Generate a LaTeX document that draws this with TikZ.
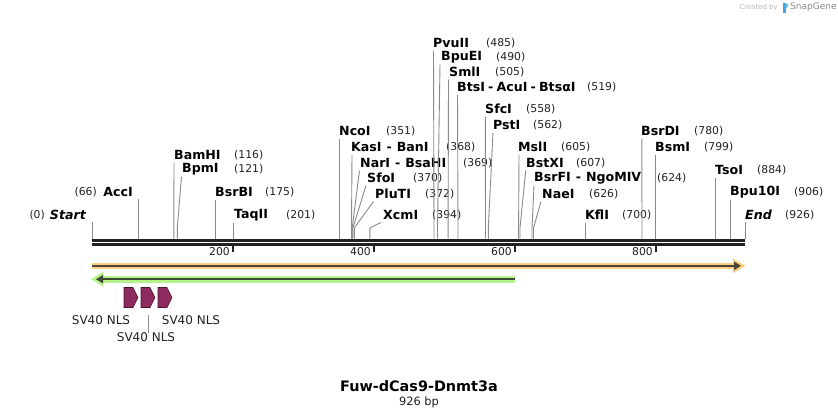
\documentclass[tikz,border=0pt]{standalone}
\usepackage{fontspec}
\setmainfont{DejaVu Sans}
\usetikzlibrary{arrows.meta}
\definecolor{cutgray}{HTML}{8A8A8A}
\definecolor{bbone}{HTML}{222222}
\definecolor{orangeL}{HTML}{FCD083}
\definecolor{orangeD}{HTML}{4E4536}
\definecolor{greenL}{HTML}{B6F28A}
\definecolor{greenD}{HTML}{3E4A37}
\definecolor{nlsfill}{HTML}{8E2B5E}
\definecolor{nlsdraw}{HTML}{4F1634}
\definecolor{sgblue}{HTML}{3BA9E0}
\tikzset{
  ename/.style={inner sep=0pt, font=\fontsize{12.6}{14}\selectfont\bfseries, text=black},
  enumb/.style={inner sep=0pt, font=\fontsize{10.8}{13}\selectfont, text=bbone},
  cutline/.style={draw=cutgray, line width=0.9pt},
  ticklbl/.style={inner sep=0pt, font=\fontsize{10.8}{13}\selectfont, text=bbone, anchor=east},
  tickmark/.style={draw=bbone, line width=1.4pt},
  featlbl/.style={inner sep=0pt, font=\fontsize{12}{14}\selectfont, text=bbone},
  nls/.style={fill=nlsfill, draw=nlsdraw, line width=0.6pt},
}
\newcommand\enz[8]{%
  \node[ename, anchor=west] (n#1) at (#3,#4) {#5};
  \node[enumb, anchor=west] (p#1) at (#6,#4) {#7};
  \coordinate (t#1) at (#8,#4+7.5);
  \coordinate (k#1) at (#2,228);
  \coordinate (s#1) at (#2,238.5);
  \draw[cutline] (t#1) -- (k#1) -- (s#1);
}
\newcommand\sep{\hspace{5pt}-\hspace{5pt}}
\newcommand\sepn{\hspace{3.2pt}-\hspace{3.2pt}}
\begin{document}
\begin{tikzpicture}[x=1pt,y=-1pt]
\useasboundingbox[fill=white] (0,0) rectangle (838,418);

% watermark
\node[inner sep=0pt, anchor=east, font=\fontsize{7}{8}\selectfont, text=black!28] (cb) at (778,7.5) {Created by};
\node[inner sep=0pt, anchor=west, font=\fontsize{9}{10}\selectfont, text=black!45] (sg) at (790,7.5) {SnapGene};
\fill[sgblue] (782.5,3) rectangle (785.5,12.5);
\fill[sgblue!70] (785.5,3) -- (788,4.5) -- (788,7) -- (785.5,8.5) -- cycle;

% start / AccI (labels left of the line)
\node[ename, anchor=east, font=\fontsize{12.6}{14}\selectfont\bfseries\itshape] (nstart) at (86,215) {Start};
\node[enumb, anchor=east] (pstart) at (45,215) {(0)};
\coordinate (tstart) at (92,222);
\coordinate (sstart) at (92,238.5);
\draw[cutline] (tstart) -- (sstart);
\node[ename, anchor=east] (nacc) at (133,192) {AccI};
\node[enumb, anchor=east] (pacc) at (97,192) {(66)};
\coordinate (tacc) at (138.5,199);
\coordinate (sacc) at (138.5,238.5);
\draw[cutline] (tacc) -- (sacc);

% enzymes: id, site x, name x, y, name, num x, num, top x
\enz{bam}{173.8}{174}{155}{BamHI}{234}{(116)}{174}
\enz{bpm}{177.3}{182}{169}{BpmI}{234}{(121)}{181.5}
\enz{bsrb}{215.4}{215}{192}{BsrBI}{265}{(175)}{215.4}
\enz{taq}{233.7}{234}{215}{TaqII}{286}{(201)}{233.7}
\enz{nco}{339.5}{339}{131}{NcoI}{386}{(351)}{339.5}
\enz{kas}{351.5}{351}{147}{KasI\sep BanI}{446}{(368)}{352}
\enz{nar}{352.2}{360}{163}{NarI\sep BsaHI}{463}{(369)}{359.5}
\enz{sfo}{352.9}{367}{178}{SfoI}{413}{(370)}{366}
\enz{plu}{354.3}{375}{194}{PluTI}{425}{(372)}{373.5}
\enz{xcm}{369.9}{383}{215}{XcmI}{432}{(394)}{381}
\enz{pvu}{434}{433}{43}{PvuII}{486}{(485)}{433.5}
\enz{bpue}{437.5}{441}{57}{BpuEI}{496}{(490)}{440}
\enz{sml}{448.1}{449}{72}{SmlI}{495}{(505)}{448.5}
\enz{bts}{458}{457}{87}{BtsI\sepn AcuI\sepn BtsαI}{587}{(519)}{457.5}
\enz{sfc}{485.5}{485}{109}{SfcI}{526}{(558)}{485.3}
\enz{pst}{488.3}{493}{125}{PstI}{533}{(562)}{493}
\enz{msl}{518.6}{518}{147}{MslI}{561}{(605)}{519}
\enz{bstx}{520}{526}{163}{BstXI}{576}{(607)}{525.7}
\enz{bsrf}{532}{534}{178}{BsrFI\sep NgoMIV}{657}{(624)}{534}
\enz{nae}{533.5}{542}{194}{NaeI}{589}{(626)}{541}
\enz{kfl}{585.6}{585}{215}{KflI}{622}{(700)}{585.6}
\enz{bsrd}{642}{641}{131}{BsrDI}{694}{(780)}{641.8}
\enz{bsm}{655.5}{655}{147}{BsmI}{704}{(799)}{655.5}
\enz{tso}{715.4}{715}{170}{TsoI}{757}{(884)}{715.4}
\enz{bpu}{730.9}{730}{192}{Bpu10I}{794}{(906)}{730.9}
\node[ename, anchor=west, font=\fontsize{12.6}{14}\selectfont\bfseries\itshape] (nend) at (745,215) {End};
\node[enumb, anchor=west] (pend) at (785,215) {(926)};
\coordinate (tend) at (745,222);
\coordinate (send) at (745,238.5);
\draw[cutline] (tend) -- (send);

% backbone
\coordinate (bbL1) at (92,240.3);
\coordinate (bbR1) at (745,240.3);
\coordinate (bbL2) at (92,244.6);
\coordinate (bbR2) at (745,244.6);
\draw[bbone, line width=2.8pt] (bbL1) -- (bbR1);
\draw[bbone, line width=2.8pt] (bbL2) -- (bbR2);

% ticks
\foreach \v/\x in {200/233,400/374,600/515,800/656}{
  \coordinate (tk\v) at (\x,246);
  \draw[tickmark] (tk\v) -- ++(0,6);
  \node[ticklbl] (tl\v) at (\x-3,252) {\v};
}

% orange feature arrow (forward)
\coordinate (oA) at (92,265.8);
\coordinate (oB) at (741,265.8);
\draw[orangeL, line width=6.6pt] (oA) -- (735,265.8);
\fill[orangeL] (733,258.5) -- (745.5,265.8) -- (733,273.1) -- cycle;
\draw[orangeD, line width=2pt, -{Triangle[length=7pt,width=8pt]}] (oA) -- (oB);

% green feature arrow (reverse)
\coordinate (gA) at (515,279.2);
\coordinate (gB) at (96,279.2);
\draw[greenL, line width=6.6pt] (gA) -- (101,279.2);
\fill[greenL] (103,271.9) -- (91,279.2) -- (103,286.5) -- cycle;
\draw[greenD, line width=2pt, -{Triangle[length=7pt,width=8pt]}] (gA) -- (gB);

% SV40 NLS features
\draw[nls] (124,287.5) -- (133,287.5) -- (138,297.5) -- (133,307.5) -- (124,307.5) -- cycle;
\draw[nls] (141,287.5) -- (150,287.5) -- (155,297.5) -- (150,307.5) -- (141,307.5) -- cycle;
\draw[nls] (158,287.5) -- (167,287.5) -- (172,297.5) -- (167,307.5) -- (158,307.5) -- cycle;
\node[featlbl] (nls1) at (101,320.5) {SV40 NLS};
\node[featlbl] (nls2) at (146,337.5) {SV40 NLS};
\node[featlbl] (nls3) at (191,320.5) {SV40 NLS};
\coordinate (nlsT) at (148,315);
\draw[cutgray, line width=0.9pt] (nlsT) -- (nls2.north -| nlsT);

% title
\node[inner sep=0pt, font=\fontsize{14.4}{17}\selectfont\bfseries, text=black] (title) at (419,386) {Fuw-dCas9-Dnmt3a};
\node[inner sep=0pt, font=\fontsize{11.4}{13}\selectfont, text=bbone] (len) at (419,402) {926 bp};
\end{tikzpicture}
\end{document}
